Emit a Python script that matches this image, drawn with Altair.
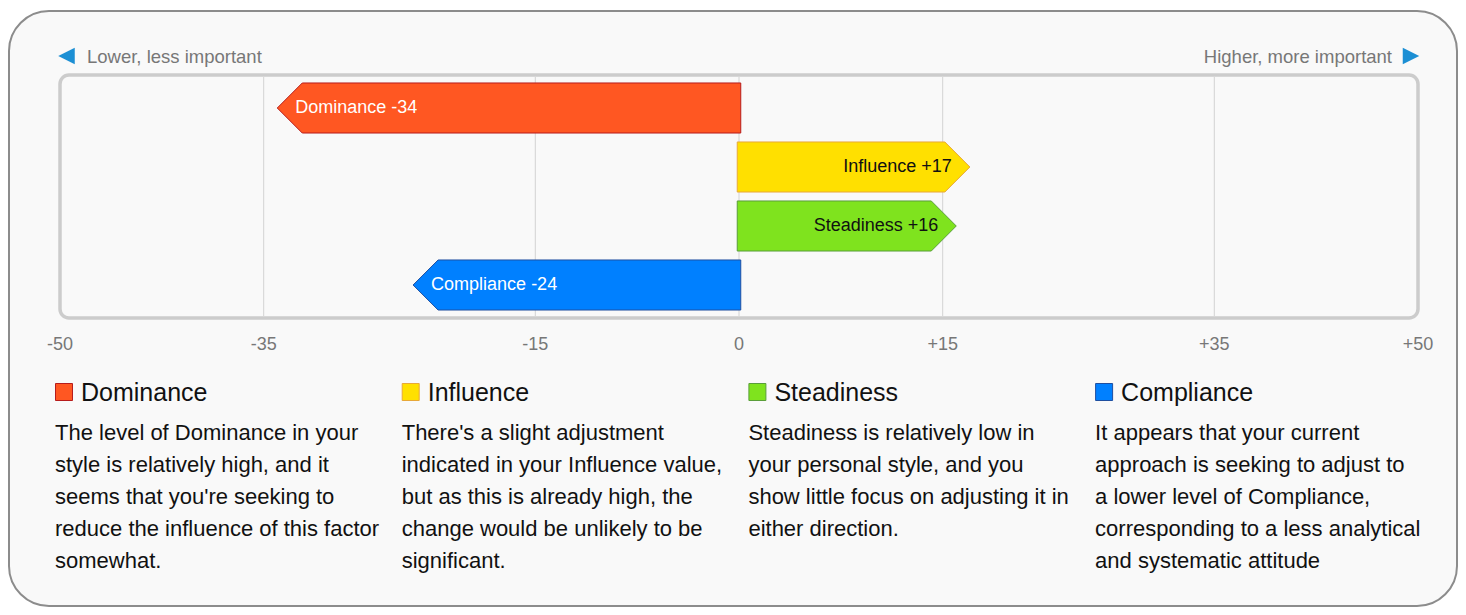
import altair as alt
import pandas as pd

# ---------------- data ----------------
categories = ["Dominance", "Influence", "Steadiness", "Compliance"]
values = [-34, 17, 16, -24]
fill_colors = ["#FF5722", "#FFE000", "#7FE31E", "#0080FF"]
stroke_colors = ["#B71C1C", "#E8A838", "#5A9E3A", "#1F4FA0"]
grid_ticks = [-35, -15, 0, 15, 35]
tick_values = [-50, -35, -15, 0, 15, 35, 50]
tick_labels = ["-50", "-35", "-15", "0", "+15", "+35", "+50"]
descriptions = [
    ["The level of Dominance in your", "style is relatively high, and it",
     "seems that you're seeking to", "reduce the influence of this factor", "somewhat."],
    ["There's a slight adjustment", "indicated in your Influence value,",
     "but as this is already high, the", "change would be unlikely to be", "significant."],
    ["Steadiness is relatively low in", "your personal style, and you",
     "show little focus on adjusting it in", "either direction."],
    ["It appears that your current", "approach is seeking to adjust to",
     "a lower level of Compliance,", "corresponding to a less analytical",
     "and systematic attitude"],
]
low_label = "Lower, less important"
high_label = "Higher, more important"

FONT = "Liberation Sans"
W, H = 1450, 600
PX_PER_UNIT = (1410 - 52) / 100.0
ARROW = 25 / PX_PER_UNIT       # arrow head depth in data units
LABEL_OFF = 18 / PX_PER_UNIT   # label inset from tip
HALF = 0.424                   # half bar height in row units
BASE = 0.13

xs = alt.Scale(domain=[-50, 50], range=[52, 1410], nice=False, zero=False)
ys = alt.Scale(domain=[0, 4], range=[70.5, 306.5], nice=False, zero=False)

# polygon points for arrow bars
rows = []
lab = []
for i, (cat, v) in enumerate(zip(categories, values)):
    c = i + 0.5
    if v < 0:
        pts = [(v, c, c), (v + ARROW, c - HALF, c + HALF), (BASE, c - HALF, c + HALF)]
        lab.append({"cat": cat, "lx": v + LABEL_OFF, "c": c, "label": f"{cat} {v:+d}", "neg": 1})
    else:
        pts = [(-BASE, c - HALF, c + HALF), (v - ARROW, c - HALF, c + HALF), (v, c, c)]
        lab.append({"cat": cat, "lx": v - LABEL_OFF, "c": c, "label": f"{cat} {v:+d}", "neg": 0})
    for x, y, y2 in pts:
        rows.append({"cat": cat, "x": x, "y": y, "y2": y2})
poly_df = pd.DataFrame(rows)
lab_df = pd.DataFrame(lab)
grid_df = pd.DataFrame({"v": grid_ticks})
tick_df = pd.DataFrame({"v": tick_values, "label": tick_labels})
one = pd.DataFrame({"a": [0]})

outer = alt.Chart(one).mark_rect(
    cornerRadius=40, fill="#f9f9f9", stroke="#8c8c8c", strokeWidth=2
).encode(x=alt.value(1), x2=alt.value(1449), y=alt.value(3), y2=alt.value(598))

inner = alt.Chart(one).mark_rect(
    cornerRadius=9, fill="#f9f9f9", stroke="#cccccc", strokeWidth=3.5
).encode(x=alt.value(52), x2=alt.value(1410), y=alt.value(67), y2=alt.value(310))

grid = alt.Chart(grid_df).mark_rule(color="#d3d3d3", strokeWidth=1).encode(
    x=alt.X("v:Q", scale=xs, axis=None), y=alt.value(69), y2=alt.value(308)
)

ticks = alt.Chart(tick_df).mark_text(
    font=FONT, fontSize=18, color="#777777", baseline="middle", align="center"
).encode(x=alt.X("v:Q", scale=xs, axis=None), y=alt.value(337), text="label:N")

tri_left = alt.Chart(one).mark_point(
    shape="M -1,0 L 1,-1 L 1,1 Z", filled=True, fill="#1c8fd4", size=272, opacity=1, strokeWidth=0
).encode(x=alt.value(58.5), y=alt.value(48))
tri_right = alt.Chart(one).mark_point(
    shape="M 1,0 L -1,-1 L -1,1 Z", filled=True, fill="#1c8fd4", size=272, opacity=1, strokeWidth=0
).encode(x=alt.value(1403), y=alt.value(48))
low_text = alt.Chart(one).mark_text(
    text=low_label, font=FONT, fontSize=18.5, color="#777777", align="left", baseline="middle"
).encode(x=alt.value(79), y=alt.value(48.5))
high_text = alt.Chart(one).mark_text(
    text=high_label, font=FONT, fontSize=18.5, color="#777777", align="right", baseline="middle"
).encode(x=alt.value(1384), y=alt.value(48.5))

bars = alt.Chart(poly_df).mark_area(orient="vertical", strokeWidth=1, interpolate="linear", opacity=1).encode(
    x=alt.X("x:Q", scale=xs, axis=None),
    y=alt.Y("y:Q", scale=ys, axis=None, stack=None),
    y2="y2:Q",
    fill=alt.Fill("cat:N", scale=alt.Scale(domain=categories, range=fill_colors), legend=None),
    stroke=alt.Stroke("cat:N", scale=alt.Scale(domain=categories, range=stroke_colors), legend=None),
)

neg_labels = alt.Chart(lab_df).transform_filter("datum.neg == 1").mark_text(
    font=FONT, fontSize=18, color="#ffffff", align="left", baseline="middle"
).encode(x=alt.X("lx:Q", scale=xs, axis=None), y=alt.Y("c:Q", scale=ys, axis=None), text="label:N")
pos_labels = alt.Chart(lab_df).transform_filter("datum.neg == 0").mark_text(
    font=FONT, fontSize=18, color="#111111", align="right", baseline="middle"
).encode(x=alt.X("lx:Q", scale=xs, axis=None), y=alt.Y("c:Q", scale=ys, axis=None), text="label:N")

legend_layers = []
COL0, COLW = 47, 346.7
for i, cat in enumerate(categories):
    cx = COL0 + i * COLW
    legend_layers.append(
        alt.Chart(one).mark_rect(fill=fill_colors[i], stroke=stroke_colors[i], strokeWidth=1).encode(
            x=alt.value(cx + 0.5), x2=alt.value(cx + 17.5), y=alt.value(375.5), y2=alt.value(392.5)
        )
    )
    legend_layers.append(
        alt.Chart(one).mark_text(
            text=cat, font=FONT, fontSize=25, color="#111111", align="left", baseline="alphabetic"
        ).encode(x=alt.value(cx + 26), y=alt.value(393))
    )
    legend_layers.append(
        alt.Chart(one).mark_text(
            text=descriptions[i], font=FONT, fontSize=22, lineHeight=32, color="#111111",
            align="left", baseline="alphabetic"
        ).encode(x=alt.value(cx), y=alt.value(432))
    )

chart = alt.layer(
    outer, inner, grid, ticks, tri_left, tri_right, low_text, high_text,
    bars, neg_labels, pos_labels, *legend_layers
).properties(
    width=W, height=H, autosize=alt.AutoSizeParams(type="none"), padding=0, background="white"
).configure_view(stroke=None)

chart.save("out.html", embed_options={"renderer": "svg", "actions": False})
